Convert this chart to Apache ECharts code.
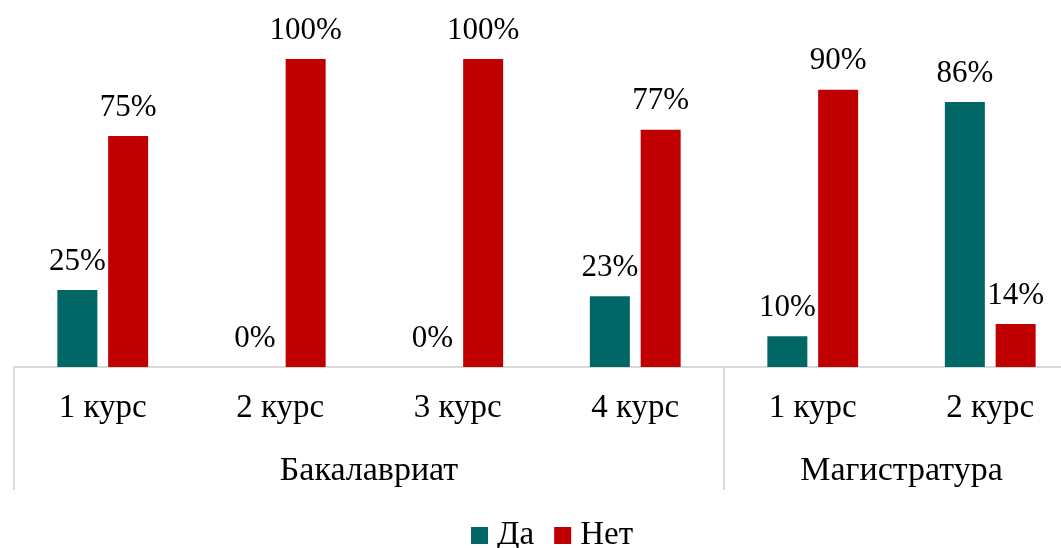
<!DOCTYPE html>
<html>
<head>
<meta charset="utf-8">
<script src="https://cdn.jsdelivr.net/npm/echarts@6/dist/echarts.min.js"></script>
<style>html,body{margin:0;padding:0;background:#fff;overflow:hidden;width:1061px;height:548px;}#c{width:1100px;height:548px;}</style>
</head>
<body>
<div id="c"></div>
<script>
const categories = ['1 курс', '2 курс', '3 курс', '4 курс', '1 курс', '2 курс'];
const groups = ['Бакалавриат', 'Магистратура'];
const groupSizes = [4, 2];
const seriesNames = ['Да', 'Нет'];
const yesValues = [25, 0, 0, 23, 10, 86];
const noValues = [75, 100, 100, 77, 90, 14];

const FONT = 'Liberation Serif';
const catW = 177.5;

// build group-level axis data: label at the middle of each group
const groupData = [];
const groupStarts = [];
let s = 0;
groups.forEach((g, gi) => {
  groupStarts.push(s);
  const size = groupSizes[gi];
  for (let k = 0; k < size; k++) {
    const mid = Math.floor((size - 1) / 2);
    if (k === mid) {
      const shift = size % 2 === 0 ? catW : 0;
      groupData.push({ value: g, textStyle: { padding: [0, 0, 0, shift] } });
    } else {
      groupData.push({ value: '' });
    }
  }
  s += size;
});

const chart = echarts.init(document.getElementById('c'));
const labelStyle = {
  show: true, position: 'top', distance: 13,
  formatter: p => p.value + '%',
  fontFamily: FONT, fontSize: 31, color: '#000'
};
chart.setOption({
  animation: false,
  textStyle: { fontFamily: FONT },
  grid: { left: 14, top: 59, width: 6 * catW, bottom: 181, containLabel: false },
  legend: {
    data: seriesNames, top: 514, left: 466,
    icon: 'rect', itemWidth: 17, itemHeight: 17, itemGap: 20,
    textStyle: { fontFamily: FONT, fontSize: 33, color: '#000', padding: [0, 0, 0, 4] }
  },
  xAxis: [
    {
      type: 'category', data: categories, position: 'bottom',
      axisLine: { lineStyle: { color: '#d9d9d9', width: 2 } },
      axisTick: { show: false },
      axisLabel: { interval: 0, margin: 25, fontFamily: FONT, fontSize: 33, color: '#000' }
    },
    {
      type: 'category', data: groupData, position: 'bottom',
      axisLine: { show: false },
      axisTick: {
        show: true, length: 123,
        interval: (idx) => groupStarts.includes(idx),
        lineStyle: { color: '#d9d9d9', width: 2 }
      },
      axisLabel: { interval: 0, margin: 87, fontFamily: FONT, fontSize: 34, color: '#000' }
    }
  ],
  yAxis: { type: 'value', min: 0, max: 100, show: false, splitLine: { show: false } },
  series: [
    { name: seriesNames[0], type: 'bar', data: yesValues, barWidth: 40, barGap: '27%',
      itemStyle: { color: '#006666' }, label: labelStyle },
    { name: seriesNames[1], type: 'bar', data: noValues, barWidth: 40, barGap: '27%',
      itemStyle: { color: '#C00000' }, label: labelStyle }
  ]
});
</script>
</body>
</html>
